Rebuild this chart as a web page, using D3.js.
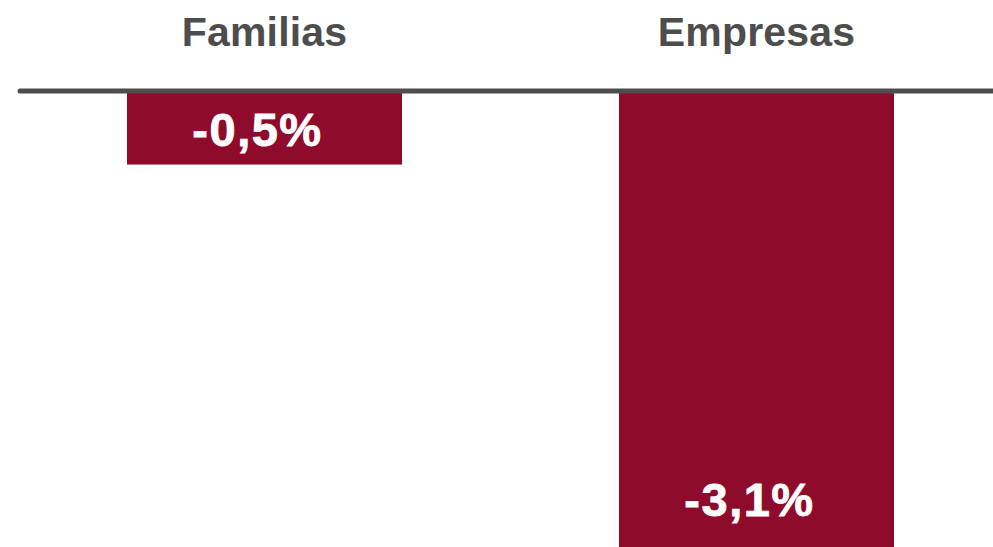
<!DOCTYPE html>
<html><head><meta charset="utf-8">
<script src="https://cdn.jsdelivr.net/npm/d3@7"></script>
<style>html,body{margin:0;padding:0;background:#fff;overflow:hidden}</style>
</head><body>
<svg id="chart" width="993" height="547"></svg>
<script>
const categories = ["Familias", "Empresas"];
const values = [-0.5, -3.1];
const valueLabels = ["-0,5%", "-3,1%"];

const W = 993, H = 547;
const svg = d3.select("#chart");
const barColor = "#8f0b2c";
const textGray = "#4d4d4d";

const x = d3.scaleBand().domain(categories).range([18, 1003])
  .paddingInner(0.441).paddingOuter(0.2215);
const y = d3.scaleLinear().domain([0, -3.1]).range([91, 547]);

const data = categories.map((c, i) => ({c, v: values[i], label: valueLabels[i]}));

svg.selectAll("rect.bar").data(data).enter().append("rect")
  .attr("class", "bar")
  .attr("x", d => x(d.c))
  .attr("width", x.bandwidth())
  .attr("y", y(0))
  .attr("height", d => y(d.v) - y(0))
  .attr("fill", barColor);

// baseline
svg.append("line")
  .attr("x1", 20).attr("x2", W + 10)
  .attr("y1", y(0)).attr("y2", y(0))
  .attr("stroke", "#4d4d4d").attr("stroke-width", 5)
  .attr("stroke-linecap", "round");

// category labels
svg.selectAll("text.cat").data(data).enter().append("text")
  .attr("class", "cat")
  .attr("x", d => x(d.c) + x.bandwidth() / 2)
  .attr("y", 46)
  .attr("text-anchor", "middle")
  .attr("font-family", "'Liberation Sans', Arial, sans-serif")
  .attr("font-weight", "bold")
  .attr("font-size", 41)
  .attr("letter-spacing", 0.2)
  .attr("fill", textGray)
  .text(d => d.c);

// value labels
svg.selectAll("text.val").data(data).enter().append("text")
  .attr("class", "val")
  .attr("x", d => x(d.c) + x.bandwidth() / 2)
  .attr("dx", -7)
  .attr("y", d => {
    const mid = (y(0) + 3 + y(d.v)) / 2 + 17;
    return Math.max(mid, y(d.v) - 31);
  })
  .attr("text-anchor", "middle")
  .attr("font-family", "'Liberation Sans', Arial, sans-serif")
  .attr("font-weight", "bold")
  .attr("font-size", 47)
  .attr("letter-spacing", 1.5)
  .attr("fill", "#ffffff")
  .attr("stroke", "#ffffff")
  .attr("stroke-width", 0.8)
  .text(d => d.label);
</script>
</body></html>
